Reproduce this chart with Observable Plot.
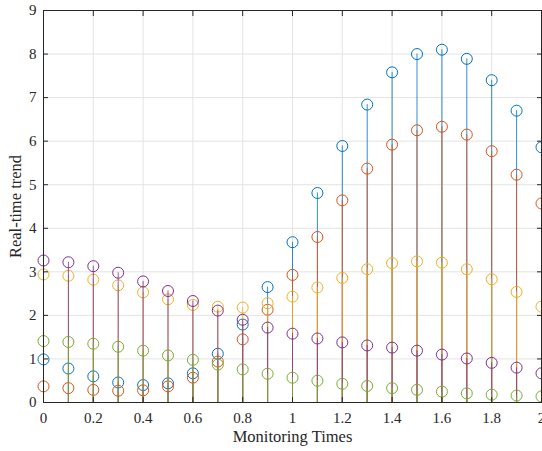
<!DOCTYPE html>
<html><head><meta charset="utf-8">
<script src="https://cdn.jsdelivr.net/npm/d3@7"></script>
<script src="https://cdn.jsdelivr.net/npm/@observablehq/plot@0.6"></script>
<style>body{margin:0;background:#fff}</style>
</head><body><div id="chart"></div>
<script>
const times = [0,0.1,0.2,0.3,0.4,0.5,0.6,0.7,0.8,0.9,1.0,1.1,1.2,1.3,1.4,1.5,1.6,1.7,1.8,1.9,2.0];
const series1 = [0.99,0.78,0.60,0.46,0.40,0.44,0.67,1.12,1.79,2.65,3.68,4.81,5.89,6.84,7.58,8.00,8.10,7.89,7.40,6.70,5.86];
const series2 = [0.37,0.33,0.29,0.27,0.28,0.37,0.57,0.94,1.45,2.13,2.93,3.80,4.64,5.37,5.92,6.25,6.33,6.15,5.77,5.23,4.57];
const series3 = [2.94,2.91,2.82,2.69,2.53,2.37,2.24,2.20,2.18,2.28,2.43,2.64,2.86,3.06,3.20,3.24,3.21,3.06,2.83,2.54,2.20];
const series4 = [3.26,3.22,3.13,2.98,2.78,2.56,2.33,2.11,1.90,1.72,1.58,1.47,1.38,1.31,1.26,1.19,1.10,1.01,0.91,0.80,0.67];
const series5 = [1.41,1.39,1.35,1.28,1.19,1.08,0.98,0.87,0.76,0.66,0.57,0.50,0.43,0.38,0.33,0.29,0.25,0.21,0.18,0.16,0.14];
const colors = ["#0072BD","#D95319","#EDB120","#7E2F8E","#77AC30"];
const xTicks = [0,0.2,0.4,0.6,0.8,1,1.2,1.4,1.6,1.8,2];
const yTicks = [0,1,2,3,4,5,6,7,8,9];
const xLabel = "Monitoring Times";
const yLabel = "Real-time trend";

const allSeries = [series1, series2, series3, series4, series5];
const marks = [
  Plot.gridX(xTicks, {stroke: "#e3e3e3", strokeOpacity: 1}),
  Plot.gridY(yTicks, {stroke: "#e3e3e3", strokeOpacity: 1})
];
allSeries.forEach((s, i) => {
  const data = times.map((t, j) => ({t, v: s[j]}));
  marks.push(Plot.ruleX(data, {x: "t", y1: 0, y2: "v", stroke: colors[i], strokeWidth: 1, strokeOpacity: 0.8}));
  marks.push(Plot.dot(data, {x: "t", y: "v", r: 5.5, stroke: colors[i], strokeWidth: 1, fill: "none"}));
});
marks.push(
  Plot.frame({stroke: "#262626", strokeWidth: 1}),
  Plot.axisX(xTicks, {anchor: "bottom", tickSize: -5, tickPadding: 15, tickFormat: d => String(d), label: null, fontSize: 15, stroke: "#262626", color: "#262626"}),
  Plot.axisX(xTicks, {anchor: "top", tickSize: -5, tickFormat: () => "", label: null, stroke: "#262626"}),
  Plot.axisY(yTicks, {anchor: "left", tickSize: -5, tickPadding: 12, tickFormat: d => String(d), label: null, fontSize: 15, stroke: "#262626", color: "#262626"}),
  Plot.axisY(yTicks, {anchor: "right", tickSize: -5, tickFormat: () => "", label: null, stroke: "#262626"}),
  Plot.text([xLabel], {frameAnchor: "bottom", dy: 39, fontSize: 16.5, fill: "#262626"}),
  Plot.text([yLabel], {frameAnchor: "left", textAnchor: "middle", dx: -28, rotate: -90, fontSize: 16.5, fill: "#262626"})
);

const chart = Plot.plot({
  width: 542,
  height: 451,
  marginLeft: 43,
  marginRight: 1,
  marginTop: 10,
  marginBottom: 49,
  style: {fontFamily: "'Liberation Serif', 'Times New Roman', serif", background: "#fff", overflow: "hidden"},
  x: {domain: [0, 2]},
  y: {domain: [0, 9]},
  marks
});
document.getElementById("chart").appendChild(chart);
</script>
</body></html>
